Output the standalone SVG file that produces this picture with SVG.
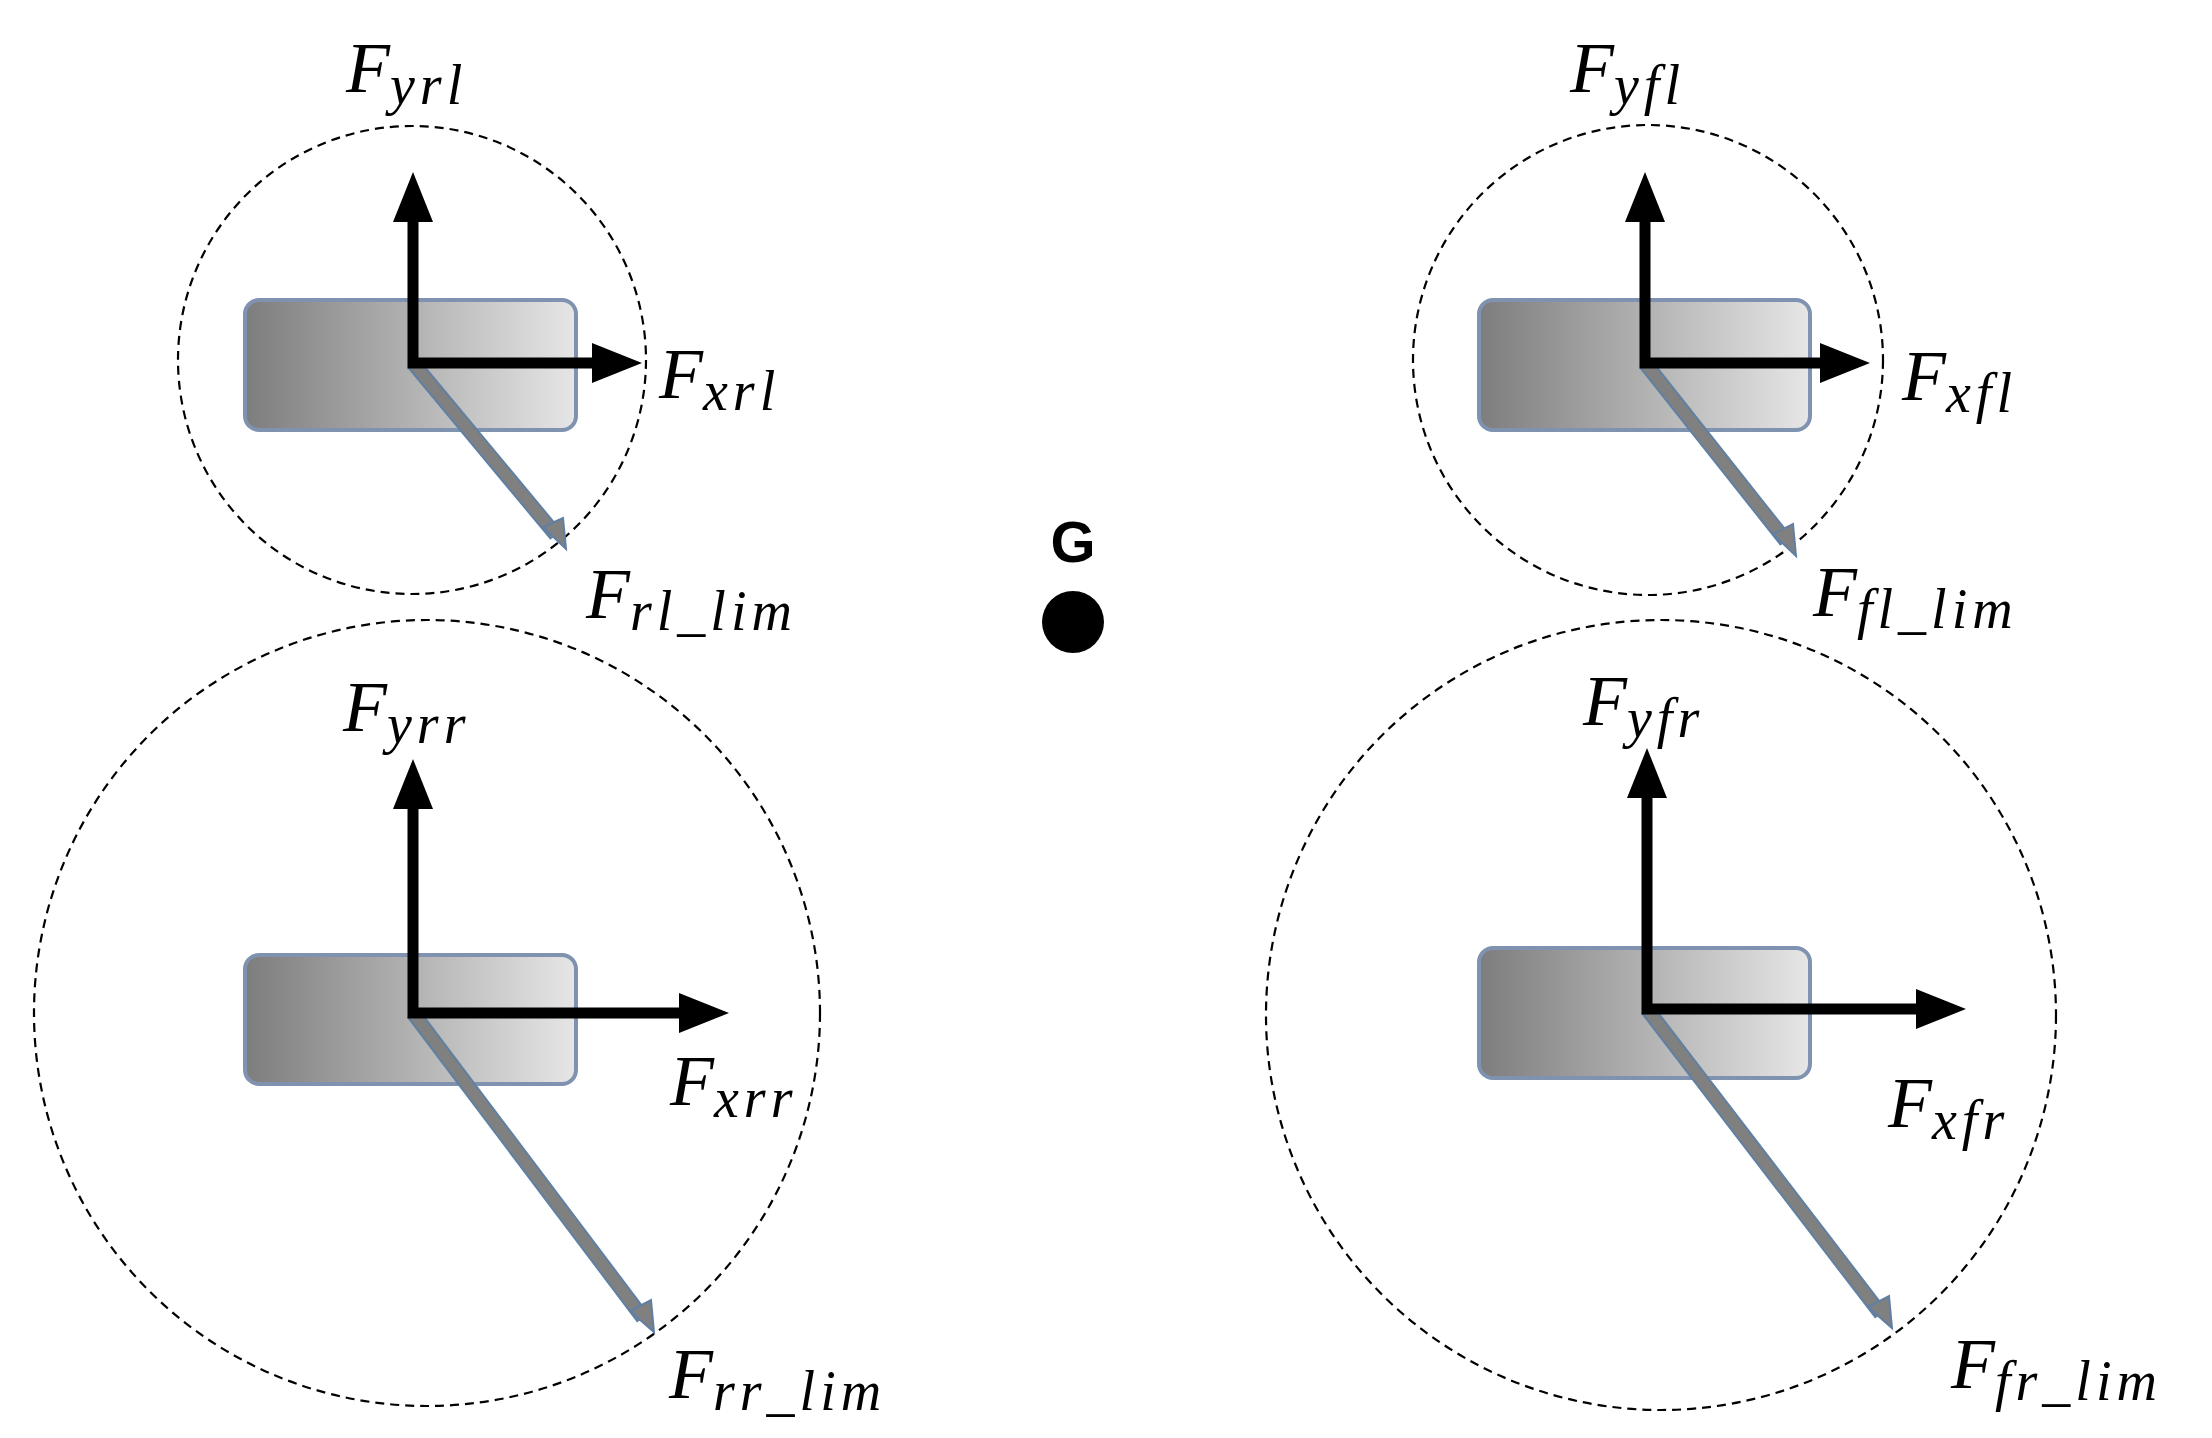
<svg xmlns="http://www.w3.org/2000/svg" width="2212" height="1438" viewBox="0 0 2212 1438">
<style>
.c{fill:none;stroke:#000;stroke-width:2.2;stroke-dasharray:9 6}
.w{fill:url(#g);stroke:#7f93b0;stroke-width:4}
.a{stroke:#000;stroke-width:11;fill:none}
.h{fill:#000}
.gl{stroke:#5f7fa5;stroke-width:15}
.gi{stroke:#808080;stroke-width:11}
.t{font-family:"Liberation Serif",serif;font-style:italic;font-size:72px;fill:#000}
.s{font-size:56px;letter-spacing:5px}
</style>
<defs>
<linearGradient id="g" x1="0" x2="1" y1="0" y2="0"><stop offset="0" stop-color="#7d7d7d"/><stop offset="1" stop-color="#e6e6e6"/></linearGradient>
</defs>
<rect width="2212" height="1438" fill="#fff"/>
<g id="rl">
<circle class="c" cx="412" cy="360" r="234"/>
<rect class="w" x="245" y="300" width="331" height="130" rx="14"/>
<line class="gl" x1="413" y1="363" x2="556" y2="535"/><line class="gi" x1="413" y1="363" x2="556" y2="535"/>
<path d="M543,527L566,549L563,518z" fill="#808080" stroke="#5f7fa5" stroke-width="2"/>
<path class="a" d="M413,215V363H595"/>
<path class="h" d="M413,172L393,222H433z"/><path class="h" d="M642,363L592,343V383z"/>
<text class="t" x="346" y="92">F<tspan class="s" dy="12">yrl</tspan></text>
<text class="t" x="659" y="398">F<tspan class="s" dy="12">xrl</tspan></text>
<text class="t" x="586" y="618">F<tspan class="s" dy="12">rl_lim</tspan></text>
</g>
<g id="rr">
<circle class="c" cx="427" cy="1013" r="393"/>
<rect class="w" x="245" y="955" width="331" height="129" rx="14"/>
<line class="gl" x1="413" y1="1013" x2="643" y2="1318"/><line class="gi" x1="413" y1="1013" x2="643" y2="1318"/>
<path d="M630,1311L654,1332L651,1300z" fill="#808080" stroke="#5f7fa5" stroke-width="2"/>
<path class="a" d="M413,800V1013H685"/>
<path class="h" d="M413,759L393,809H433z"/><path class="h" d="M729,1013L679,993V1033z"/>
<text class="t" x="343" y="731">F<tspan class="s" dy="12">yrr</tspan></text>
<text class="t" x="670" y="1105">F<tspan class="s" dy="12">xrr</tspan></text>
<text class="t" x="669" y="1398">F<tspan class="s" dy="12">rr_lim</tspan></text>
</g>
<g id="G">
<text x="1073" y="562" text-anchor="middle" font-family="Liberation Sans,sans-serif" font-weight="bold" font-size="58">G</text>
<circle cx="1073" cy="622" r="31" fill="#000"/>
</g>
<g id="fl">
<circle class="c" cx="1648" cy="360" r="235"/>
<rect class="w" x="1479" y="300" width="331" height="130" rx="14"/>
<line class="gl" x1="1645" y1="363" x2="1786" y2="541"/><line class="gi" x1="1645" y1="363" x2="1786" y2="541"/>
<path d="M1773,534L1796,556L1793,524z" fill="#808080" stroke="#5f7fa5" stroke-width="2"/>
<path class="a" d="M1645,215V363H1825"/>
<path class="h" d="M1645,172L1625,222H1665z"/><path class="h" d="M1870,363L1820,343V383z"/>
<text class="t" x="1570" y="92">F<tspan class="s" dy="12">yfl</tspan></text>
<text class="t" x="1902" y="400">F<tspan class="s" dy="12">xfl</tspan></text>
<text class="t" x="1813" y="616">F<tspan class="s" dy="12">fl_lim</tspan></text>
</g>
<g id="fr">
<circle class="c" cx="1661" cy="1015" r="395"/>
<rect class="w" x="1479" y="948" width="331" height="130" rx="14"/>
<line class="gl" x1="1647" y1="1009" x2="1881" y2="1314"/><line class="gi" x1="1647" y1="1009" x2="1881" y2="1314"/>
<path d="M1868,1307L1892,1328L1889,1296z" fill="#808080" stroke="#5f7fa5" stroke-width="2"/>
<path class="a" d="M1647,790V1009H1922"/>
<path class="h" d="M1647,748L1627,798H1667z"/><path class="h" d="M1966,1009L1916,989V1029z"/>
<text class="t" x="1583" y="725">F<tspan class="s" dy="12">yfr</tspan></text>
<text class="t" x="1888" y="1127">F<tspan class="s" dy="12">xfr</tspan></text>
<text class="t" x="1951" y="1388">F<tspan class="s" dy="12">fr_lim</tspan></text>
</g>
</svg>
